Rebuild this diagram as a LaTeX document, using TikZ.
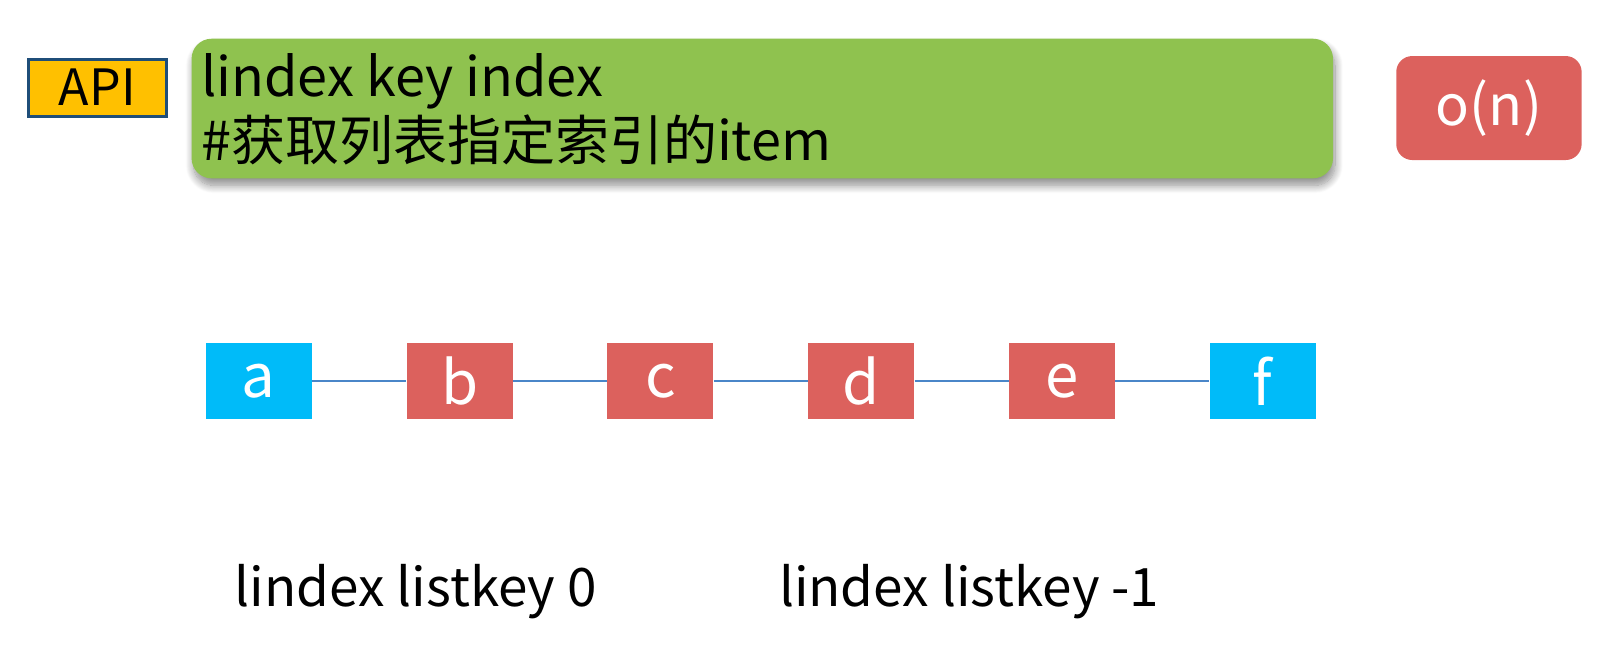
\documentclass[tikz,border=0pt]{standalone}
\usepackage{fontspec}
\setmainfont{Noto Sans CJK SC}
\usetikzlibrary{shadows,shadows.blur}
\definecolor{apiorange}{HTML}{FFC000}
\definecolor{apiborder}{HTML}{1F4E79}
\definecolor{cmdgreen}{HTML}{8FC24F}
\definecolor{cplxred}{HTML}{DC615D}
\definecolor{endblue}{HTML}{00BBF9}
\definecolor{linkblue}{HTML}{4A86C8}
\tikzset{
  apibox/.style={draw=apiborder, line width=1.6pt, fill=apiorange, minimum width=68.8pt, minimum height=28.5pt, inner sep=0pt, font=\fontsize{25}{25}\selectfont},
  cmdbox/.style={fill=cmdgreen, rounded corners=10pt, blur shadow={shadow xshift=1pt, shadow yshift=-3.5pt, shadow blur radius=4pt, shadow blur steps=12, shadow opacity=45}},
  cplxbox/.style={fill=cplxred, rounded corners=8pt, minimum width=92.7pt, minimum height=52pt, inner sep=0pt, text=white, font=\fontsize{28}{28}\selectfont},
  cell/.style={minimum width=53pt, minimum height=37.7pt, inner sep=0pt, text=white, font=\fontsize{30}{30}\selectfont},
  midcell/.style={cell, fill=cplxred},
  endcell/.style={cell, fill=endblue},
  link/.style={draw=linkblue, line width=1pt},
  cmdtext/.style={anchor=base west, inner sep=0pt, font=\fontsize{27}{27}\selectfont},
  usetext/.style={anchor=base west, inner sep=0pt, font=\fontsize{26.5}{26.5}\selectfont},
}
\begin{document}
\begin{tikzpicture}[x=0.50957pt, y=-0.50957pt]
\useasboundingbox (0,0) rectangle (1568,636.9);
\node[apibox] (api) at (95.5,86) {API};
\path[cmdbox] (188,38) rectangle (1308,175);
\node[cmdtext] (cmd1) at (197,95) {lindex key index};
\node[cmdtext] (cmd2) at (197,157) {\#获取列表指定索引的item};
\node[cplxbox] (cplx) at (1461,106) {o(n)};
\node[endcell] (a) at (254,374) {a};
\node[midcell] (b) at (451,374) {b};
\node[midcell] (c) at (648,374) {c};
\node[midcell] (d) at (845,374) {d};
\node[midcell] (e) at (1042,374) {e};
\node[endcell] (f) at (1239,374) {f};
\draw[link] (a) -- (b);
\draw[link] (b) -- (c);
\draw[link] (c) -- (d);
\draw[link] (d) -- (e);
\draw[link] (e) -- (f);
\node[usetext] (use0) at (230,595) {lindex listkey 0};
\node[usetext] (use1) at (764,595) {lindex listkey -1};
\end{tikzpicture}
\end{document}
